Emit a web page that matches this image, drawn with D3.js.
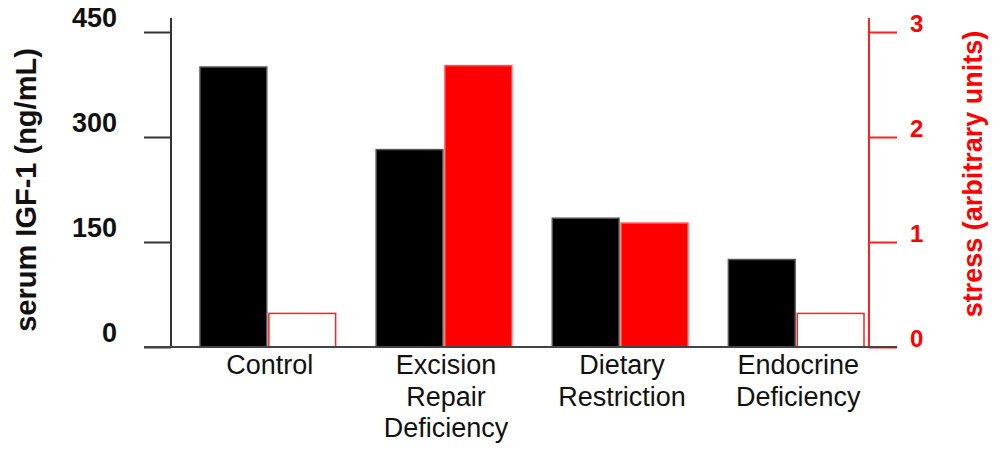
<!DOCTYPE html>
<html>
<head>
<meta charset="utf-8">
<script src="https://cdn.jsdelivr.net/npm/d3@7"></script>
<style>
  body { margin: 0; background: #fff; }
  svg { display: block; font-family: "Liberation Sans", Arial, sans-serif; }
</style>
</head>
<body>
<div class="chart"></div>
<script>
const categories = [['Control'], ['Excision', 'Repair', 'Deficiency'], ['Dietary', 'Restriction'], ['Endocrine', 'Deficiency']];
const igf = [400, 282, 184, 125];
const stress = [0.32, 2.68, 1.18, 0.32];
const stressOutlined = [true, false, false, true];
const igfTicks = [0, 150, 300, 450];
const stressTicks = [0, 1, 2, 3];

const w = 997;
const h = 449;
const axLeft = 171, axRight = 869, axTop = 18, base = 347;
const font = '"Liberation Sans", Arial, sans-serif';

const svg = d3.select('.chart').append('svg').attr('width', w).attr('height', h);

const x = d3.scaleBand().domain(d3.range(categories.length)).range([200, 864]).paddingInner(0.23).paddingOuter(0);
const sub = d3.scaleBand().domain(['igf', 'stress']).range([0, x.bandwidth()]).paddingInner(0.03);
const yL = d3.scaleLinear().domain([0, 450]).range([base, 32]);
const yR = d3.scaleLinear().domain([0, 3]).range([base, 32]);

// bars
const g = svg.append('g');
g.selectAll('rect.igf').data(igf).enter().append('rect').attr('class', 'igf')
  .attr('x', (d, i) => x(i) + sub('igf')).attr('y', d => yL(d))
  .attr('width', sub.bandwidth()).attr('height', d => base - yL(d))
  .attr('fill', '#000').attr('stroke', '#555').attr('stroke-width', 1.5);

g.selectAll('rect.stress').data(stress).enter().append('rect').attr('class', 'stress')
  .attr('x', (d, i) => x(i) + sub('stress')).attr('y', d => yR(d))
  .attr('width', sub.bandwidth()).attr('height', d => base - yR(d))
  .attr('fill', (d, i) => stressOutlined[i] ? '#fff' : '#ff0000')
  .attr('stroke', (d, i) => stressOutlined[i] ? '#ff2020' : '#ff5050').attr('stroke-width', 1.5);

// left axis
const axL = svg.append('g').attr('transform', `translate(${axLeft},0)`)
  .call(d3.axisLeft(yL).tickValues(igfTicks).tickSize(27).tickPadding(27));
axL.select('.domain').remove();
axL.selectAll('line').attr('stroke', '#333').attr('stroke-width', 2);
axL.selectAll('text').attr('fill', '#111').attr('font-size', 27).attr('font-weight', 'bold')
  .attr('font-family', font).attr('dy', -6);
svg.append('line').attr('x1', axLeft).attr('x2', axLeft).attr('y1', axTop).attr('y2', base)
  .attr('stroke', '#333').attr('stroke-width', 2);

// right axis
const axR = svg.append('g').attr('transform', `translate(${axRight},0)`)
  .call(d3.axisRight(yR).tickValues(stressTicks).tickFormat(d3.format('d')).tickSize(28).tickPadding(13));
axR.select('.domain').remove();
axR.selectAll('line').attr('stroke', '#ff2020').attr('stroke-width', 2);
axR.selectAll('text').attr('fill', '#ff0000').attr('font-size', 24).attr('font-weight', 'bold')
  .attr('font-family', font).attr('dy', -1);
svg.append('line').attr('x1', axRight).attr('x2', axRight).attr('y1', axTop).attr('y2', base)
  .attr('stroke', '#ff2020').attr('stroke-width', 2);

// baseline
svg.append('line').attr('x1', 144).attr('x2', 897).attr('y1', base).attr('y2', base)
  .attr('stroke', '#444').attr('stroke-width', 2);

// category labels
const lab = svg.selectAll('text.cat').data(categories).enter().append('text').attr('class', 'cat')
  .attr('text-anchor', 'middle').attr('font-size', 27).attr('fill', '#111')
  .attr('transform', (d, i) => `translate(${x(i) + x.bandwidth() / 2 + 2},374)`);
lab.selectAll('tspan').data(d => d).enter().append('tspan')
  .attr('x', 0).attr('dy', (d, j) => j === 0 ? 0 : 31.5).text(d => d);

// axis titles
svg.append('text').attr('transform', 'translate(36,190) rotate(-90)').attr('text-anchor', 'middle')
  .attr('font-size', 29).attr('font-weight', 'bold').attr('fill', '#111').text('serum IGF-1 (ng/mL)');
svg.append('text').attr('transform', 'translate(982,174) rotate(-90)').attr('text-anchor', 'middle')
  .attr('font-size', 27).attr('font-weight', 'bold').attr('fill', '#ff0000').text('stress (arbitrary units)');
</script>
</body>
</html>
